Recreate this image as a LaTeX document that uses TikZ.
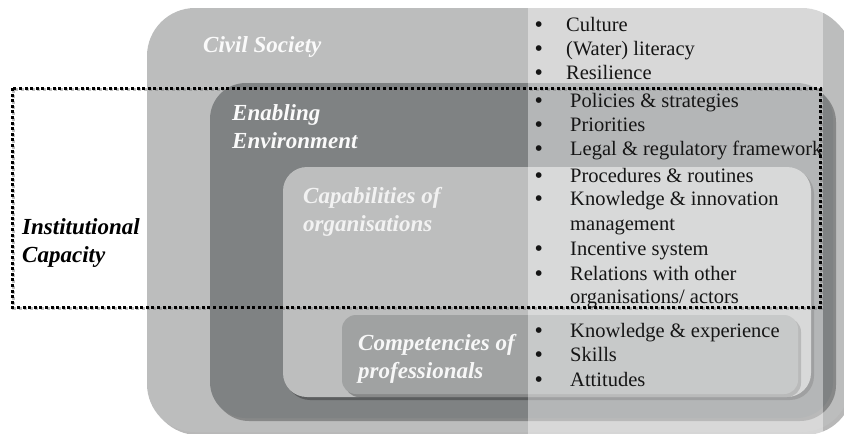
\documentclass[tikz,border=0pt]{standalone}
\usepackage{fontspec}
\setmainfont{Liberation Serif}
\definecolor{outerg}{HTML}{BCBDBD}
\definecolor{envg}{HTML}{7F8283}
\definecolor{capg}{HTML}{BDBEBE}
\definecolor{compg}{HTML}{A0A2A2}
\definecolor{listc}{HTML}{151515}
\tikzset{
  boxshadow/.style={preaction={fill=black,opacity=0.28,transform canvas={xshift=3pt,yshift=-3pt}}},
  lab/.style={inner sep=0pt,anchor=base west,font=\fontsize{23}{28}\selectfont\bfseries\itshape},
  item/.style={inner sep=0pt,anchor=base west,font=\fontsize{20.5}{24}\selectfont,text=listc},
  bul/.style={inner sep=0pt,anchor=base west,font=\fontsize{21}{24}\selectfont\bfseries,text=listc}
}
\begin{document}
\begin{tikzpicture}[x=1pt,y=-1pt]
\useasboundingbox (0,0) rectangle (844,434);
% nested boxes
\path[fill=outerg,boxshadow,rounded corners=48pt] (147,8) rectangle (850,432);
\path[fill=envg,boxshadow,rounded corners=36pt] (210,83) rectangle (833,418);
\path[fill=capg,boxshadow,rounded corners=24pt] (283,167) rectangle (811,397);
\path[fill=compg,boxshadow,rounded corners=14pt] (342,315) rectangle (798,394);
% light column
\path[fill=white,opacity=0.42] (528,8) rectangle (823,434);
% dotted frame
\draw[gray,opacity=0.5,line width=3pt,dash pattern=on 3pt off 2.6pt,transform canvas={xshift=1.5pt,yshift=-1.5pt}] (12,88) rectangle (820,307);
\draw[black,line width=3pt,dash pattern=on 3pt off 2.6pt] (12,88) rectangle (820,307);
% labels
\node[lab,text=white!96!gray] (cs) at (203,52) {Civil Society};
\node[lab,text=white!96!gray] (ee1) at (232,120) {Enabling};
\node[lab,text=white!96!gray] (ee2) at (232,148) {Environment};
\node[lab,text=white!90!gray] (co1) at (303,203) {Capabilities of};
\node[lab,text=white!90!gray] (co2) at (303,231) {organisations};
\node[lab,text=white!94!gray] (cp1) at (358,350) {Competencies of};
\node[lab,text=white!94!gray] (cp2) at (358,378) {professionals};
\node[lab,text=black] (ic1) at (22,234) {Institutional};
\node[lab,text=black] (ic2) at (22,262) {Capacity};
% bullets
\foreach \yy/\nm in {31/b1,55/b2,79/b3,107/b4,131/b5,155/b6,182/b7,205/b8,255/b9,280/b10,337/b11,361/b12,386/b13}{
  \node[bul] (\nm) at (535,\yy) {•};
}
% list texts
\node[item] (t1) at (566,31) {Culture};
\node[item] (t2) at (566,55) {(Water) literacy};
\node[item] (t3) at (566,79) {Resilience};
\node[item] (t4) at (570,107) {Policies \& strategies};
\node[item] (t5) at (570,131) {Priorities};
\node[item] (t6) at (570,155) {Legal \& regulatory framework};
\node[item] (t7) at (570,182) {Procedures \& routines};
\node[item] (t8) at (570,205) {Knowledge \& innovation};
\node[item] (t8b) at (570,230) {management};
\node[item] (t9) at (570,255) {Incentive system};
\node[item] (t10) at (570,280) {Relations with other};
\node[item] (t10b) at (570,303) {organisations/ actors};
\node[item] (t11) at (570,337) {Knowledge \& experience};
\node[item] (t12) at (570,361) {Skills};
\node[item] (t13) at (570,386) {Attitudes};
\end{tikzpicture}
\end{document}
